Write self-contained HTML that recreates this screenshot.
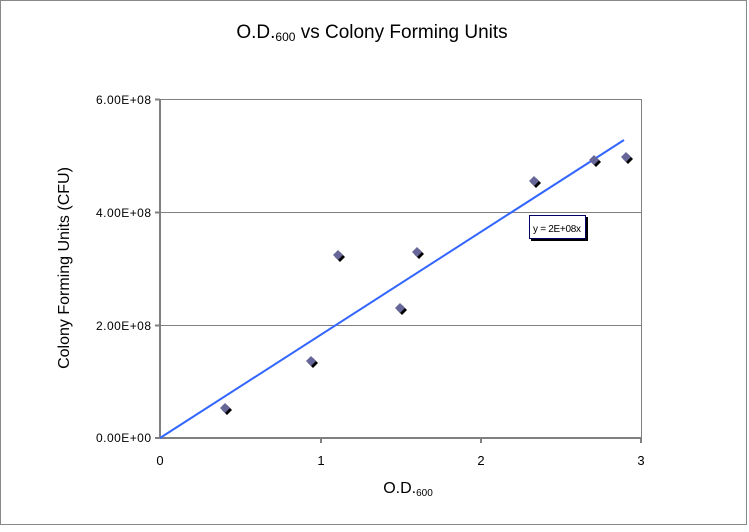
<!DOCTYPE html>
<html><head><style>
body{margin:0;background:#fff;}
svg text{font-family:"Liberation Sans",sans-serif;}
</style></head><body>
<svg width="749" height="527" viewBox="0 0 749 527" xmlns="http://www.w3.org/2000/svg">
<rect x="0.5" y="0.5" width="746" height="524" fill="#fff" stroke="#888"/>
<text x="372" y="38" font-size="19" text-anchor="middle" fill="#000">O.D.<tspan font-size="12" dy="3">600</tspan><tspan dy="-3"> vs Colony Forming Units</tspan></text>
<g stroke="#808080" stroke-width="1">
<line x1="160" y1="99.5" x2="641" y2="99.5"/>
<line x1="160" y1="212.5" x2="641" y2="212.5"/>
<line x1="160" y1="325.5" x2="641" y2="325.5"/>
<line x1="641.5" y1="99" x2="641.5" y2="438"/>
</g>
<g stroke="#808080" stroke-width="2">
<line x1="160" y1="99" x2="160" y2="439"/>
<line x1="159" y1="438" x2="642" y2="438"/>
<line x1="155" y1="99.5" x2="160" y2="99.5"/>
<line x1="155" y1="212.5" x2="160" y2="212.5"/>
<line x1="155" y1="325.5" x2="160" y2="325.5"/>
<line x1="155" y1="438" x2="160" y2="438"/>
<line x1="321" y1="438" x2="321" y2="443"/>
<line x1="481" y1="438" x2="481" y2="443"/>
<line x1="641" y1="438" x2="641" y2="443"/>
</g>
<g font-size="12" text-anchor="end" fill="#000" textLength="55">
<text x="151" y="104" textLength="55">6.00E+08</text>
<text x="151" y="217" textLength="55">4.00E+08</text>
<text x="151" y="330" textLength="55">2.00E+08</text>
<text x="151" y="442" textLength="55">0.00E+00</text>
</g>
<g font-size="13" text-anchor="middle">
<text x="160" y="465">0</text><text x="321" y="465">1</text><text x="481" y="465">2</text><text x="641" y="465">3</text>
</g>
<text x="408" y="493" font-size="16" text-anchor="middle">O.D.<tspan font-size="10" dy="3">600</tspan></text>
<text transform="translate(69,268) rotate(-90)" font-size="16" text-anchor="middle">Colony Forming Units (CFU)</text>
<line x1="160" y1="438" x2="624" y2="140" stroke="#3366ff" stroke-width="2"/>
<g fill="#000">
<polygon points="227,405 232,410 227,415 222,410"/>
<polygon points="313,358 318,363 313,368 308,363"/>
<polygon points="340,252 345,257 340,262 335,257"/>
<polygon points="402,305 407,310 402,315 397,310"/>
<polygon points="419,249 424,254 419,259 414,254"/>
<polygon points="536,178 541,183 536,188 531,183"/>
<polygon points="596,157 601,162 596,167 591,162"/>
<polygon points="628,154 633,159 628,164 623,159"/>
</g>
<g fill="#666699">
<polygon points="225,403 230,408 225,413 220,408"/>
<polygon points="311,356 316,361 311,366 306,361"/>
<polygon points="338,250 343,255 338,260 333,255"/>
<polygon points="400,303 405,308 400,313 395,308"/>
<polygon points="417,247 422,252 417,257 412,252"/>
<polygon points="534,176 539,181 534,186 529,181"/>
<polygon points="594,155 599,160 594,165 589,160"/>
<polygon points="626,152 631,157 626,162 621,157"/>
</g>
<rect x="531" y="217" width="57" height="24" fill="#000"/>
<rect x="529.5" y="215.5" width="56" height="23" fill="#fff" stroke="#000066"/>
<text x="533" y="232" font-size="10" textLength="48">y = 2E+08x</text>
</svg>
</body></html>
